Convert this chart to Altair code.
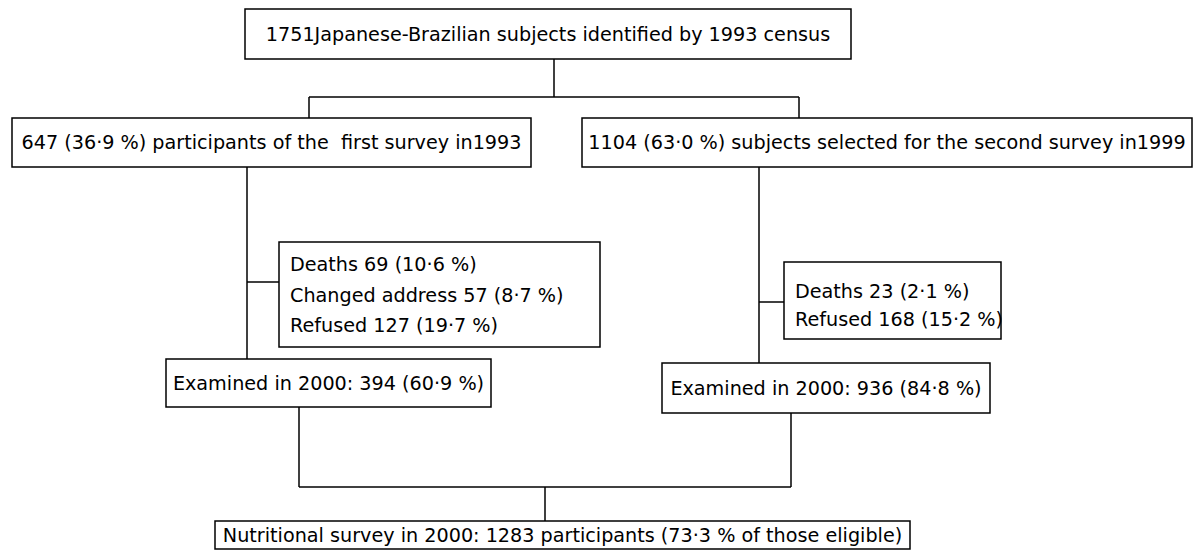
import altair as alt
import pandas as pd

# ---- flowchart content ----
box_id = ["census", "first", "second", "loss1", "exam1", "loss2", "exam2", "final"]
box_lines = [
    ["1751Japanese-Brazilian subjects identified by 1993 census"],
    ["647 (36·9 %) participants of the \u00a0first survey in1993"],
    ["1104 (63·0 %) subjects selected for the second survey in1999"],
    ["Deaths 69 (10·6 %)", "Changed address 57 (8·7 %)", "Refused 127 (19·7 %)"],
    ["Examined in 2000: 394 (60·9 %)"],
    ["Deaths 23 (2·1 %)", "Refused 168 (15·2 %)"],
    ["Examined in 2000: 936 (84·8 %)"],
    ["Nutritional survey in 2000: 1283 participants (73·3 % of those eligible)"],
]

# ---- layout (page pixel coordinates) ----
box_x1 = [245, 12, 582, 279, 166, 784, 662, 215]
box_x2 = [851, 531, 1192, 600, 491, 1001, 990, 910]
box_y1 = [9, 118, 118, 242, 359, 262, 363, 521]
box_y2 = [59, 167, 167, 347, 407, 339, 413, 549]
multi_text_x = {"loss1": 290, "loss2": 795}
multi_first_y = {"loss1": 265, "loss2": 292}
line_gap = {"loss1": 30.5, "loss2": 28}

# connectors: (x, y) -> (x2, y2)
conn_x1 = [554, 309, 309, 799, 247, 247, 759, 759, 299, 791, 299, 545]
conn_y1 = [59, 97, 97, 97, 167, 282, 167, 302, 407, 413, 487, 487]
conn_x2 = [554, 799, 309, 799, 247, 279, 759, 784, 299, 791, 791, 545]
conn_y2 = [97, 97, 118, 118, 359, 282, 363, 302, 487, 487, 487, 521]

boxes = pd.DataFrame({"id": box_id, "x1": box_x1, "x2": box_x2, "y1": box_y1, "y2": box_y2})

rows = []
for bid, lines, x1, x2, y1, y2 in zip(box_id, box_lines, box_x1, box_x2, box_y1, box_y2):
    if len(lines) == 1:
        rows.append({"t": lines[0], "x": (x1 + x2) / 2, "y": (y1 + y2) / 2 + 0.5, "al": "center"})
    else:
        for i, ln in enumerate(lines):
            rows.append({"t": ln, "x": multi_text_x[bid], "y": multi_first_y[bid] + i * line_gap[bid], "al": "left"})
texts = pd.DataFrame(rows)
conns = pd.DataFrame({"x": conn_x1, "y": conn_y1, "x2": conn_x2, "y2": conn_y2})

W, H = 1185, 543
xs = alt.Scale(domain=[8, 8 + W], nice=False, zero=False)
ys = alt.Scale(domain=[8, 8 + H], nice=False, zero=False, reverse=True)
FONT = "DejaVu Sans"
FS = 19.2

rules = alt.Chart(conns).mark_rule(color="black", strokeWidth=1.5).encode(
    x=alt.X("x:Q", scale=xs, axis=None),
    y=alt.Y("y:Q", scale=ys, axis=None),
    x2="x2:Q",
    y2="y2:Q",
)

rects = alt.Chart(boxes).mark_rect(fill="white", stroke="black", strokeWidth=1.5).encode(
    x=alt.X("x1:Q", scale=xs, axis=None),
    x2="x2:Q",
    y=alt.Y("y1:Q", scale=ys, axis=None),
    y2="y2:Q",
)

txt_c = alt.Chart(texts[texts.al == "center"]).mark_text(
    align="center", baseline="middle", font=FONT, fontSize=FS, color="black"
).encode(
    x=alt.X("x:Q", scale=xs, axis=None),
    y=alt.Y("y:Q", scale=ys, axis=None),
    text="t:N",
)
txt_l = alt.Chart(texts[texts.al == "left"]).mark_text(
    align="left", baseline="middle", font=FONT, fontSize=FS, color="black"
).encode(
    x=alt.X("x:Q", scale=xs, axis=None),
    y=alt.Y("y:Q", scale=ys, axis=None),
    text="t:N",
)

chart = (
    alt.layer(rules, rects, txt_c, txt_l)
    .properties(width=W, height=H, autosize="none", padding=0, background="white")
    .configure_view(stroke=None)
)

chart.save("out.html", embed_options={"renderer": "svg", "actions": False})
